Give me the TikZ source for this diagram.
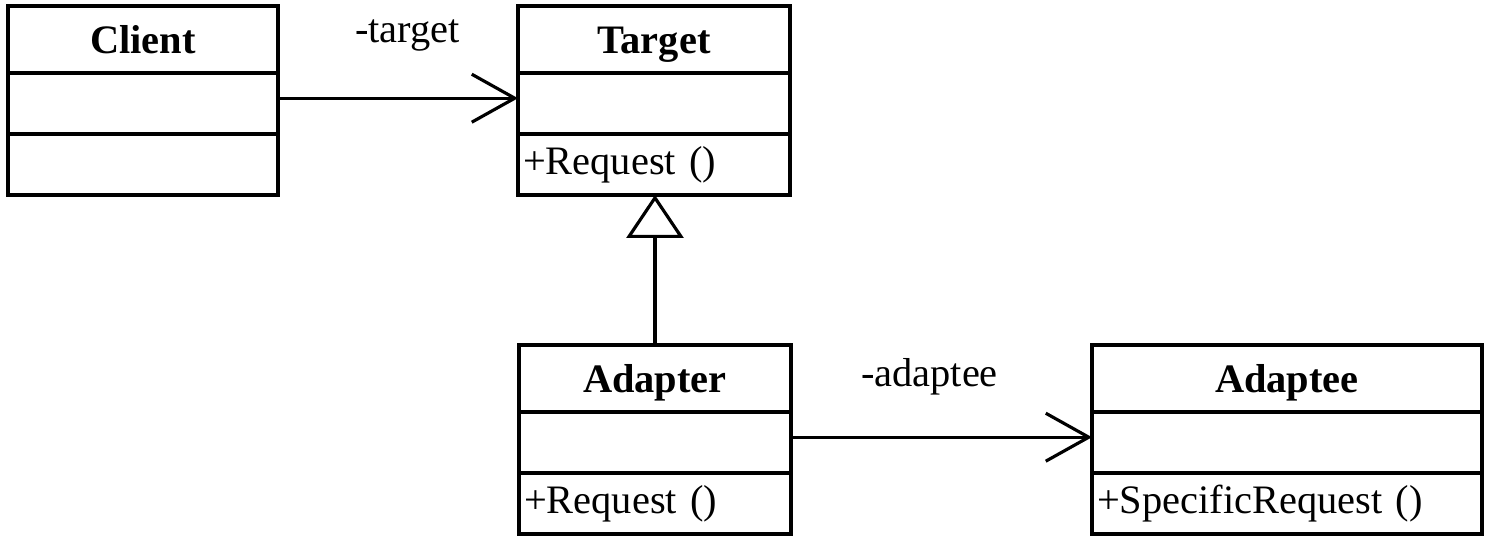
\documentclass[tikz,border=0pt]{standalone}
\usepackage{fontspec}
\setmainfont{Liberation Serif}
\usetikzlibrary{positioning,arrows.meta}

\begin{document}
\begin{tikzpicture}[
x=0.02cm, y=-0.02cm,
font=\fontsize{23}{27}\selectfont,
classname/.style={rectangle,draw=black,line width=1.8pt,outer sep=0pt,
  minimum height=1.34cm,text width=#1,align=center,inner xsep=0.1cm,
  text height=21pt,text depth=5pt,font=\fontsize{23}{27}\selectfont\bfseries},
compartment/.style={rectangle,draw=black,line width=1.8pt,outer sep=0pt,
  minimum height=1.22cm,text width=#1,align=left,inner xsep=0.1cm},
assoc/.style={-{Straight Barb[length=0.86cm,width=0.96cm]},line width=1.8pt},
inherit/.style={-{Triangle[open,length=0.86cm,width=1.14cm]},line width=1.8pt}
]
\useasboundingbox (0,0) rectangle (1488,544);

% Client
\node[classname=5.2cm, anchor=north west] (client) at (8,6) {Client};
\node[compartment=5.2cm, below=0pt of client] (clientattr) {};
\node[compartment=5.2cm, below=0pt of clientattr] (clientops) {};

% Target
\node[classname=5.24cm, anchor=north west] (target) at (518,6) {Target};
\node[compartment=5.24cm, below=0pt of target] (targetattr) {};
\node[compartment=5.24cm, below=0pt of targetattr] (targetops) {+Request ()};

% Adapter
\node[classname=5.24cm, anchor=north west] (adapter) at (519,345) {Adapter};
\node[compartment=5.24cm, below=0pt of adapter] (adapterattr) {};
\node[compartment=5.24cm, below=0pt of adapterattr] (adapterops) {+Request ()};

% Adaptee
\node[classname=7.6cm, anchor=north west] (adaptee) at (1092,345) {Adaptee};
\node[compartment=7.6cm, below=0pt of adaptee] (adapteeattr) {};
\node[compartment=7.6cm, below=0pt of adapteeattr] (adapteeops) {+SpecificRequest ()};

\draw[assoc] ([yshift=3pt]clientattr.east) -- node[pos=0.54, yshift=1.26cm] {-target} ([yshift=3pt]targetattr.west);
\draw[inherit] (adapter.north) -- (adapter.north |- targetops.south);
\draw[assoc] ([yshift=3pt]adapterattr.east) -- node[pos=0.46, yshift=1.2cm] {-adaptee} ([yshift=3pt]adapteeattr.west);
\end{tikzpicture}
\end{document}
